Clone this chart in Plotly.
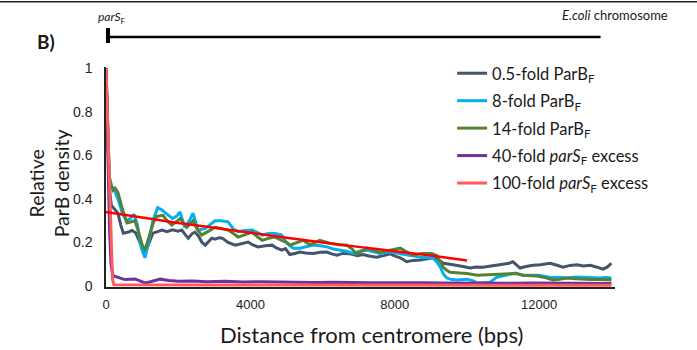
import plotly.graph_objects as go

# ---------------- data ----------------
gray_x = [0, 40, 90, 150, 230, 330, 410, 480, 620, 720, 820, 920, 1020, 1090, 1180, 1300, 1430, 1550, 1690, 1840, 2000, 2100, 2200, 2280, 2380, 2460, 2560, 2660, 2750, 2850, 2930, 3020, 3130, 3220, 3380, 3580, 3740, 3940, 4050, 4210, 4410, 4600, 4720, 4870, 4970, 5090, 5230, 5370, 5530, 5740, 5940, 6120, 6250, 6400, 6560, 6760, 6970, 7120, 7280, 7500, 7690, 7870, 8050, 8150, 8330, 8510, 8700, 8870, 9060, 9170, 9340, 9530, 9730, 9890, 10090, 10250, 10440, 10660, 10820, 11020, 11170, 11270, 11380, 11470, 11630, 11830, 12040, 12300, 12450, 12660, 12860, 13050, 13220, 13410, 13580, 13770, 13890, 14000]
gray_y = [1.0, 0.75, 0.45, 0.37, 0.355, 0.335, 0.28, 0.243, 0.248, 0.255, 0.245, 0.21, 0.17, 0.156, 0.19, 0.243, 0.25, 0.257, 0.25, 0.258, 0.252, 0.257, 0.235, 0.22, 0.24, 0.248, 0.23, 0.2, 0.188, 0.205, 0.22, 0.215, 0.222, 0.22, 0.2, 0.188, 0.195, 0.202, 0.19, 0.18, 0.185, 0.188, 0.175, 0.165, 0.172, 0.145, 0.15, 0.156, 0.152, 0.15, 0.155, 0.156, 0.148, 0.142, 0.15, 0.148, 0.14, 0.145, 0.138, 0.133, 0.14, 0.148, 0.135, 0.13, 0.112, 0.118, 0.12, 0.125, 0.13, 0.125, 0.105, 0.1, 0.096, 0.09, 0.083, 0.088, 0.087, 0.092, 0.096, 0.1, 0.105, 0.112, 0.095, 0.083, 0.09, 0.096, 0.098, 0.105, 0.098, 0.087, 0.095, 0.098, 0.092, 0.096, 0.088, 0.078, 0.088, 0.105]

blue_x = [0, 40, 90, 150, 230, 330, 460, 570, 670, 780, 870, 970, 1080, 1180, 1300, 1430, 1540, 1690, 1840, 1950, 2050, 2180, 2310, 2410, 2550, 2750, 2870, 3020, 3180, 3380, 3540, 3660, 3840, 4050, 4200, 4330, 4460, 4600, 4720, 4870, 5010, 5190, 5370, 5540, 5740, 5940, 6120, 6300, 6480, 6660, 6850, 7020, 7230, 7380, 7590, 7790, 7950, 8150, 8330, 8510, 8700, 8920, 9060, 9170, 9260, 9350, 9440, 9580, 9730, 9890, 10000, 10150, 10300, 10450, 10640, 10820, 10970, 11110, 11330, 11430, 11550, 11740, 11940, 12150, 12300, 12560, 12770, 13020, 13210, 13430, 13680, 13840, 14000]
blue_y = [1.0, 0.8, 0.5, 0.46, 0.44, 0.4, 0.33, 0.3, 0.31, 0.33, 0.28, 0.18, 0.13, 0.2, 0.3, 0.36, 0.35, 0.33, 0.31, 0.32, 0.34, 0.27, 0.3, 0.335, 0.257, 0.265, 0.28, 0.3, 0.3, 0.295, 0.26, 0.25, 0.255, 0.257, 0.245, 0.234, 0.24, 0.243, 0.24, 0.234, 0.197, 0.174, 0.174, 0.18, 0.188, 0.185, 0.18, 0.17, 0.165, 0.16, 0.15, 0.16, 0.165, 0.158, 0.15, 0.155, 0.156, 0.148, 0.142, 0.138, 0.133, 0.13, 0.128, 0.11, 0.087, 0.055, 0.037, 0.03, 0.028, 0.03, 0.032, 0.025, 0.014, 0.016, 0.018, 0.04, 0.045, 0.05, 0.06, 0.055, 0.05, 0.05, 0.05, 0.045, 0.04, 0.04, 0.037, 0.042, 0.04, 0.038, 0.037, 0.04, 0.037]

green_x = [0, 40, 90, 150, 190, 250, 330, 460, 580, 700, 800, 900, 1000, 1080, 1180, 1310, 1410, 1580, 1690, 1820, 1950, 2050, 2150, 2240, 2330, 2410, 2530, 2650, 2820, 3020, 3180, 3380, 3540, 3660, 3840, 4050, 4200, 4330, 4510, 4680, 4870, 5040, 5090, 5280, 5460, 5650, 5790, 5920, 6200, 6460, 6670, 6820, 6950, 7070, 7230, 7430, 7580, 7740, 7870, 8150, 8300, 8520, 8660, 8790, 9020, 9170, 9260, 9350, 9440, 9530, 9810, 10000, 10280, 10560, 10920, 11120, 11270, 11380, 11550, 11740, 11940, 12150, 12380, 12560, 12770, 13020, 13210, 13430, 13730, 14000]
green_y = [1.0, 0.8, 0.5, 0.46, 0.44, 0.45, 0.43, 0.35, 0.29, 0.295, 0.3, 0.25, 0.19, 0.165, 0.22, 0.29, 0.32, 0.325, 0.3, 0.28, 0.295, 0.31, 0.29, 0.27, 0.285, 0.3, 0.26, 0.234, 0.25, 0.27, 0.265, 0.257, 0.24, 0.225, 0.235, 0.248, 0.225, 0.21, 0.22, 0.225, 0.21, 0.197, 0.188, 0.2, 0.21, 0.19, 0.2, 0.21, 0.197, 0.19, 0.188, 0.17, 0.145, 0.16, 0.174, 0.165, 0.156, 0.16, 0.165, 0.174, 0.16, 0.142, 0.148, 0.15, 0.15, 0.14, 0.11, 0.085, 0.073, 0.064, 0.06, 0.058, 0.05, 0.052, 0.055, 0.058, 0.06, 0.058, 0.05, 0.048, 0.046, 0.04, 0.028, 0.032, 0.037, 0.034, 0.032, 0.03, 0.03, 0.028]

purple_x = [0, 30, 60, 100, 140, 190, 250, 360, 520, 670, 800, 920, 1080, 1230, 1500, 1740, 2000, 2400, 2800, 3300, 3800, 4300, 4800, 5300, 5800, 6300, 6800, 7300, 7800, 8300, 8800, 9300, 9800, 10300, 10800, 11300, 11800, 12300, 12800, 13400, 14000]
purple_y = [1.0, 0.75, 0.5, 0.25, 0.1, 0.05, 0.045, 0.04, 0.03, 0.032, 0.033, 0.025, 0.015, 0.02, 0.032, 0.026, 0.022, 0.024, 0.02, 0.022, 0.019, 0.02, 0.018, 0.018, 0.017, 0.018, 0.016, 0.015, 0.016, 0.014, 0.015, 0.014, 0.013, 0.015, 0.014, 0.013, 0.014, 0.013, 0.012, 0.013, 0.012]

salmon_x = [0, 60, 120, 180, 220, 1000, 3000, 5000, 7000, 9000, 11000, 14000]
salmon_y = [1.0, 0.68, 0.35, 0.03, 0.006, 0.005, 0.005, 0.005, 0.005, 0.004, 0.004, 0.004]

fit_x = [0, 1000, 2000, 3000, 4000, 5000, 6000, 7000, 8000, 9000, 10000]
fit_y = [0.34, 0.315, 0.29, 0.268, 0.245, 0.222, 0.2, 0.18, 0.16, 0.14, 0.118]

x_ticks = [0, 4000, 8000, 12000]
x_tick_labels = ["0", "4000", "8000", "12000"]
y_ticks = [0, 0.2, 0.4, 0.6, 0.8, 1.0]
y_tick_labels = ["0", "0.2", "0.4", "0.6", "0.8", "1"]

chromosome_end = 13700

series = [
    ("0.5-fold ParB<sub>F</sub>", gray_x, gray_y, "#44546A"),
    ("8-fold ParB<sub>F</sub>", blue_x, blue_y, "#00B0F0"),
    ("14-fold ParB<sub>F</sub>", green_x, green_y, "#548235"),
    ("40-fold <i>parS</i><sub>F</sub> excess", purple_x, purple_y, "#7030A0"),
    ("100-fold <i>parS</i><sub>F</sub> excess", salmon_x, salmon_y, "#FF5B5B"),
]

fig = go.Figure()
for i, (name, xs, ys, col) in enumerate(series):
    fig.add_trace(go.Scatter(x=xs, y=ys, mode="lines", name=name,
                             legendgroup="g%d" % i,
                             line=dict(color=col, width=3)))
fig.add_trace(go.Scatter(x=fit_x, y=fit_y, mode="lines", showlegend=False,
                         line=dict(color="#FF0000", width=2.5, shape="spline")))

CAL = "Lato, 'Open Sans', sans-serif"
ARI = "'Liberation Sans', Arial, sans-serif"

fig.update_layout(
    width=697, height=350,
    margin=dict(l=106, r=82, t=67, b=63),
    paper_bgcolor="white", plot_bgcolor="white",
    showlegend=True,
    legend=dict(x=0.68, y=1.05, xanchor="left", yanchor="top",
                font=dict(family=CAL, size=16.5, color="#1a1a1a"),
                tracegroupgap=3, bgcolor="rgba(0,0,0,0)"),
    xaxis=dict(range=[0, 14100], showgrid=False, zeroline=False,
               showline=True, linecolor="#222", linewidth=1.5,
               tickvals=x_ticks, ticktext=x_tick_labels, ticks="",
               tickfont=dict(family=ARI, size=13, color="#222"),
               ticklabelstandoff=5),
    yaxis=dict(range=[-0.004, 1.005], showgrid=False, zeroline=False,
               showline=True, linecolor="#222", linewidth=1.5,
               tickvals=y_ticks, ticktext=y_tick_labels, ticks="",
               tickfont=dict(family=ARI, size=14, color="#222"),
               ticklabelstandoff=9),
)

# axis titles
fig.add_annotation(xref="paper", yref="paper", x=-0.1126, y=0.47,
                   xanchor="center", yanchor="middle",
                   text="Relative<br>ParB density", textangle=-90,
                   showarrow=False, font=dict(family=CAL, size=19.5, color="#1a1a1a"))
fig.add_annotation(xref="paper", yref="paper", x=0.521, y=-0.218,
                   xanchor="center", yanchor="middle",
                   text="Distance from centromere (bps)", showarrow=False,
                   font=dict(family=CAL, size=22, color="#1a1a1a"))

# chromosome schematic above the plot
fig.add_shape(type="line", xref="x", yref="paper", x0=0, x1=chromosome_end, y0=1.136, y1=1.136,
              line=dict(color="black", width=2.5))
fig.add_shape(type="rect", xref="x", yref="paper", x0=-110, x1=110, y0=1.109, y1=1.177,
              line=dict(width=0), fillcolor="black")
fig.add_annotation(xref="x", yref="paper", x=170, y=1.223,
                   xanchor="center", yanchor="middle",
                   text="<i>parS</i><sub>F</sub>", showarrow=False,
                   font=dict(family=CAL, size=12, color="#1a1a1a"))
fig.add_annotation(xref="paper", yref="paper", x=1.108, y=1.236,
                   xanchor="right", yanchor="middle",
                   text="<i>E.coli</i> chromosome", showarrow=False,
                   font=dict(family=CAL, size=13, color="#1a1a1a"))
fig.add_annotation(xref="paper", yref="paper", x=-0.118, y=1.118,
                   xanchor="center", yanchor="middle",
                   text="<b>B)</b>", showarrow=False,
                   font=dict(family=CAL, size=19, color="#1a1a1a"))
# top border line
fig.add_shape(type="line", xref="paper", yref="paper", x0=-0.25, x1=1.2, y0=1.297, y1=1.297,
              line=dict(color="#222", width=1.5))

fig.write_html("out.html", config={"displayModeBar": False},
               post_script="document.body.style.margin='0px';")
